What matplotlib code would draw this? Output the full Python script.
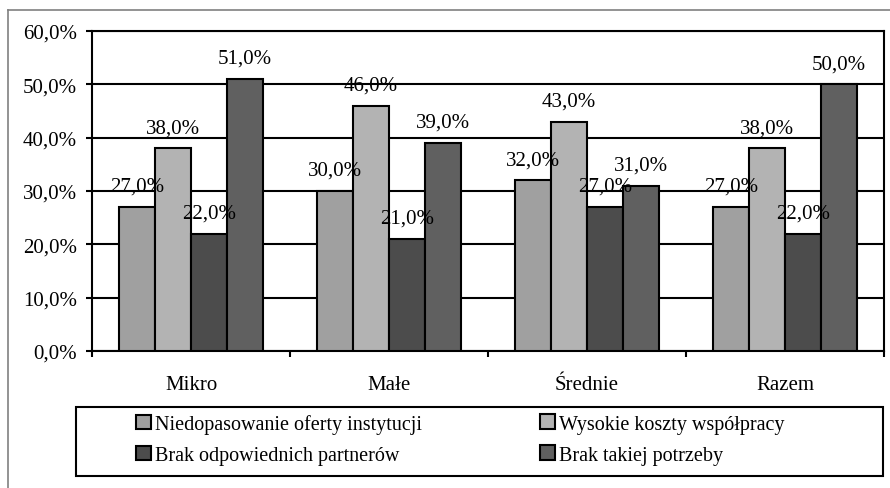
import matplotlib.pyplot as plt
from matplotlib.lines import Line2D
from matplotlib.patches import Rectangle
import numpy as np

categories = ["Mikro", "Małe", "Średnie", "Razem"]
series_names = ["Niedopasowanie oferty instytucji", "Wysokie koszty współpracy",
                "Brak odpowiednich partnerów", "Brak takiej potrzeby"]
niedopasowanie = [27.0, 30.0, 32.0, 27.0]
koszty = [38.0, 46.0, 43.0, 38.0]
partnerzy = [22.0, 21.0, 27.0, 22.0]
potrzeba = [51.0, 39.0, 31.0, 50.0]
colors = ["#a0a0a0", "#b3b3b3", "#4c4c4c", "#606060"]

plt.rcParams['font.family'] = ['Liberation Serif', 'DejaVu Serif']
FS = 15

W, H = 890, 489
fig = plt.figure(figsize=(W / 100, H / 100), dpi=100)
ax = fig.add_axes([92 / W, 1 - 352 / H, 792 / W, 320 / H])

values = [niedopasowanie, koszty, partnerzy, potrzeba]
x = np.arange(len(categories))
bw = 1 / 5.5
bars = []
for i, (vals, col, name) in enumerate(zip(values, colors, series_names)):
    pos = x + (i - 1.5) * bw
    b = ax.bar(pos, vals, width=bw, color=col, edgecolor='black', linewidth=1.5,
               label=name, zorder=3)
    bars.append(b)
    for px, v in zip(pos, vals):
        ax.annotate(f"{v:.1f}%".replace(".", ","), (px, v), xytext=(0, 11.5),
                    textcoords='offset points', ha='center', va='baseline',
                    fontsize=FS, zorder=4)

ax.set_xlim(-0.5, 3.5)
ax.set_ylim(0, 60)
ax.set_yticks(np.arange(0, 61, 10))
ax.set_yticklabels([f"{t:.1f}%".replace(".", ",") for t in np.arange(0, 61, 10)])
ax.grid(axis='y', color='black', linewidth=1.5, zorder=0)
ax.set_xticks(x)
ax.set_xticklabels(categories)
ax.set_xticks(np.arange(-0.5, 4, 1), minor=True)
ax.tick_params(axis='x', which='major', length=0, pad=17, labelsize=FS)
ax.tick_params(axis='x', which='minor', length=4.3, width=1.5)
ax.tick_params(axis='y', length=4.3, width=1.5, labelsize=FS, pad=6.5)
for s in ax.spines.values():
    s.set_linewidth(1.5)
    s.set_color('black')

# legend: frame plus two columns, filled row by row
fig.add_artist(Rectangle((76 / W, 1 - 477 / H), 807 / W, 69 / H,
                         transform=fig.transFigure, fill=False,
                         edgecolor='black', linewidth=1.5))
for col_x, idx in ((136, [0, 2]), (540, [1, 3])):
    leg = fig.legend([bars[i] for i in idx], [series_names[i] for i in idx],
                     loc='center left', bbox_to_anchor=(col_x / W, 1 - 440.5 / H),
                     fontsize=14.5, frameon=False, handlelength=0.72,
                     handleheight=0.72, handletextpad=0.2, borderpad=0,
                     borderaxespad=0, labelspacing=0.59)
    for h in leg.legend_handles:
        h.set_linewidth(1.5)

# thin gray outer frame
fig.add_artist(Line2D([8 / W, 8 / W], [0, 1 - 11 / H], transform=fig.transFigure,
                      color='#808080', linewidth=1.2))
fig.add_artist(Line2D([8 / W, 1], [1 - 11 / H, 1 - 11 / H], transform=fig.transFigure,
                      color='#808080', linewidth=1.2))

fig.savefig("out.png", dpi=100)
